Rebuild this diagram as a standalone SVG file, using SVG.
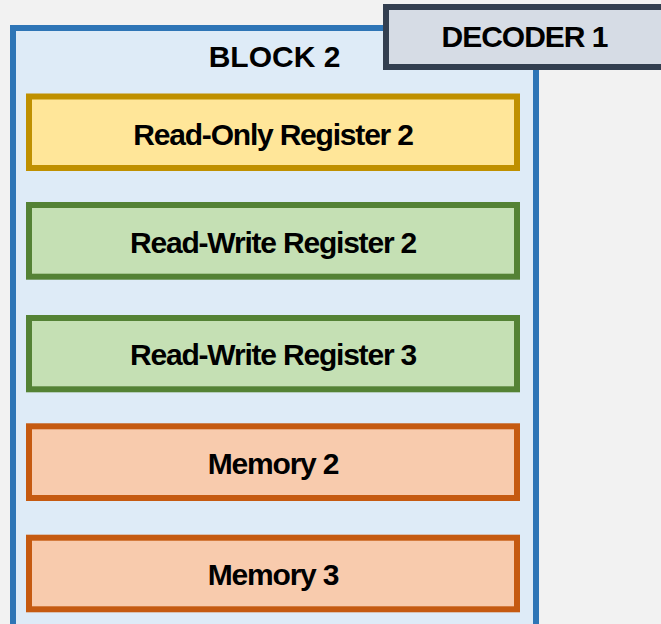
<svg xmlns="http://www.w3.org/2000/svg" width="661" height="624" viewBox="0 0 661 624">
  <style>
    .lbl { font-family: "Liberation Sans", Arial, sans-serif; font-weight: bold; font-size: 30px; letter-spacing: -1.2px; fill: #000; text-anchor: middle; }
    .title { letter-spacing: 0; }
    .dec { letter-spacing: -1px; }
    .box { stroke-width: 6; }
    .ro { fill: #ffe699; stroke: #bf9000; }
    .rw { fill: #c5e0b4; stroke: #548235; }
    .mem { fill: #f8cbad; stroke: #c55a11; }
  </style>
  <rect x="0" y="0" width="661" height="624" fill="#f2f2f2"/>

  <g id="block2">
    <rect x="13" y="28" width="523" height="610" fill="#deebf7" stroke="#2e75b6" stroke-width="6"/>
    <text class="lbl title" x="274.5" y="67">BLOCK 2</text>
  </g>

  <g id="decoder1">
    <rect x="386" y="7" width="290" height="60" fill="#d6dce5" stroke="#333f50" stroke-width="6"/>
    <text class="lbl dec" x="524.5" y="47">DECODER 1</text>
  </g>

  <g id="ro-register-2">
    <rect class="box ro" x="29" y="96.5" width="488" height="71.5"/>
    <text class="lbl" x="273" y="145">Read-Only Register 2</text>
  </g>

  <g id="rw-register-2">
    <rect class="box rw" x="29" y="205" width="488" height="71.7"/>
    <text class="lbl" x="273" y="252.5">Read-Write Register 2</text>
  </g>

  <g id="rw-register-3">
    <rect class="box rw" x="29" y="318" width="488" height="71.3"/>
    <text class="lbl" x="273" y="365">Read-Write Register 3</text>
  </g>

  <g id="memory-2">
    <rect class="box mem" x="29" y="426.3" width="488" height="71.7"/>
    <text class="lbl" x="273" y="473.5">Memory 2</text>
  </g>

  <g id="memory-3">
    <rect class="box mem" x="29" y="537.7" width="488" height="71.6"/>
    <text class="lbl" x="273" y="585">Memory 3</text>
  </g>

  <g id="connectors"/>
</svg>
